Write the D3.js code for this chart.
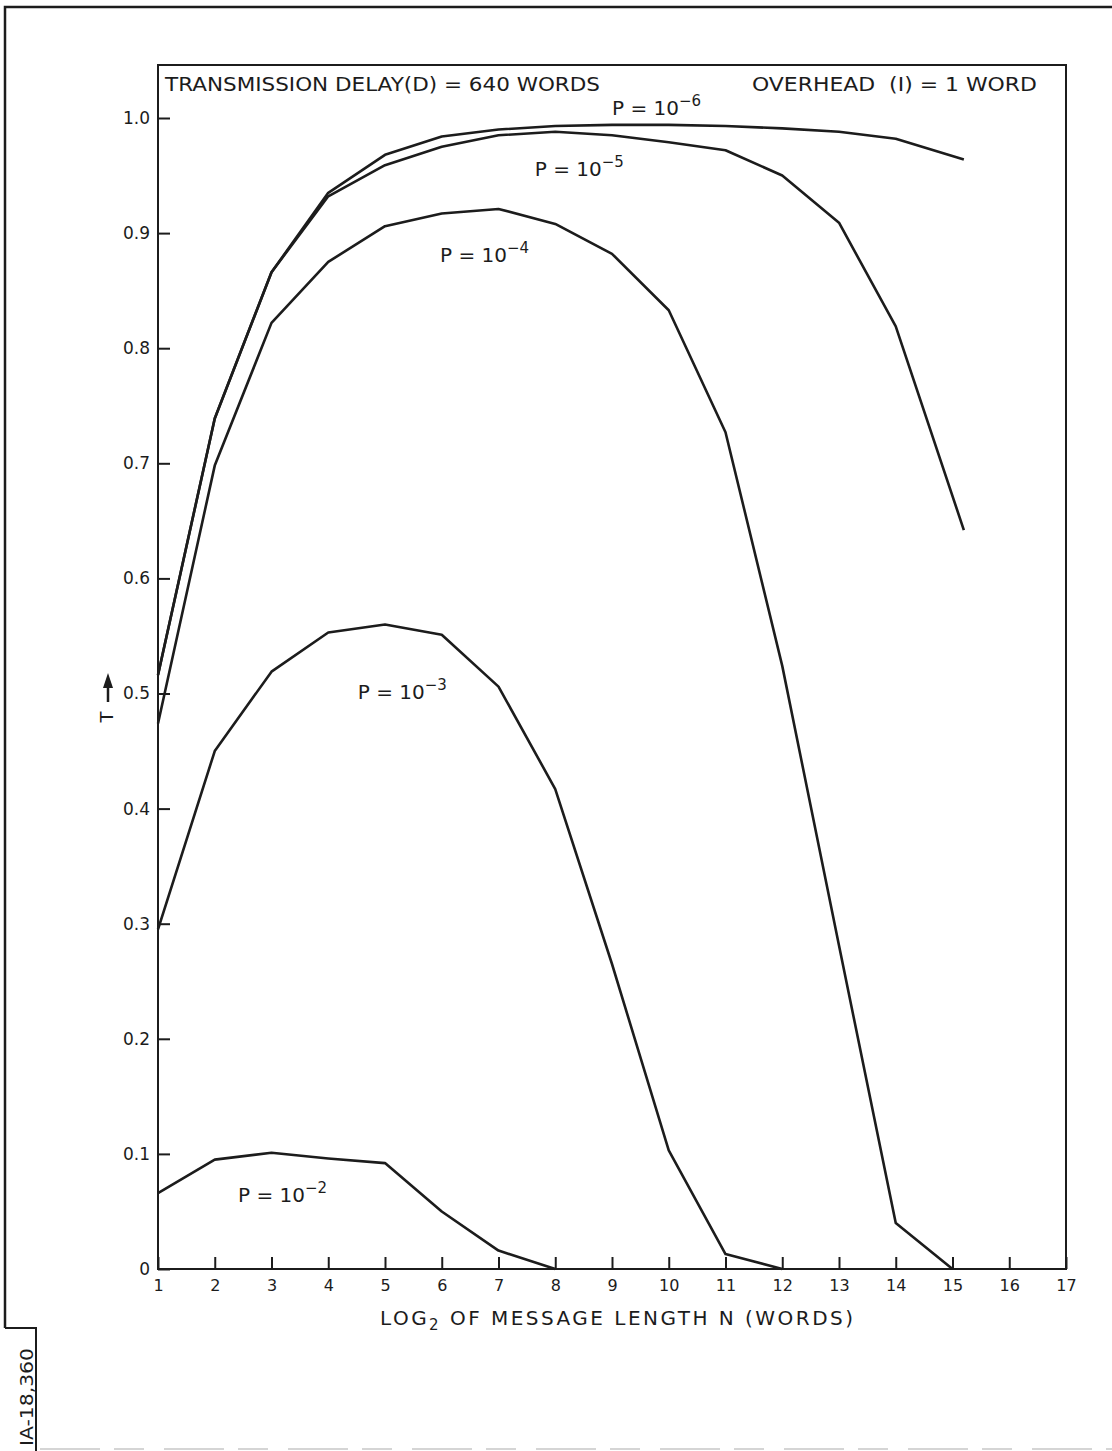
<!DOCTYPE html>
<html>
<head>
<meta charset="utf-8">
<script src="https://cdn.jsdelivr.net/npm/d3@7"></script>
<style>
  body { margin: 0; background: #fff; }
  svg text { font-family: "DejaVu Sans", sans-serif; fill: #1c1c1c; }
</style>
</head>
<body>
<svg id="chart"></svg>
<script>
// values (T against log2 N)
var xTickLabels = [1, 2, 3, 4, 5, 6, 7, 8, 9, 10, 11, 12, 13, 14, 15, 16, 17];
var yTickLabels = [0, 0.1, 0.2, 0.3, 0.4, 0.5, 0.6, 0.7, 0.8, 0.9, 1.0];

var nP6 = [1, 2, 3, 4, 5, 6, 7, 8, 9, 10, 11, 12, 13, 14, 15.2];
var tP6 = [0.516, 0.739, 0.866, 0.935, 0.968, 0.984, 0.990, 0.993, 0.994, 0.994, 0.993, 0.991, 0.988, 0.982, 0.964];

var nP5 = [1, 2, 3, 4, 5, 6, 7, 8, 9, 10, 11, 12, 13, 14, 15.2];
var tP5 = [0.516, 0.739, 0.866, 0.932, 0.959, 0.975, 0.985, 0.988, 0.985, 0.979, 0.972, 0.950, 0.909, 0.819, 0.642];

var nP4 = [1, 2, 3, 4, 5, 6, 7, 8, 9, 10, 11, 12, 13, 14, 15];
var tP4 = [0.474, 0.698, 0.822, 0.875, 0.906, 0.917, 0.921, 0.908, 0.882, 0.833, 0.727, 0.524, 0.281, 0.040, 0];

var nP3 = [1, 2, 3, 4, 5, 6, 7, 8, 9, 10, 11, 12];
var tP3 = [0.295, 0.450, 0.519, 0.553, 0.560, 0.551, 0.506, 0.417, 0.265, 0.103, 0.013, 0];

var nP2 = [1, 2, 3, 4, 5, 6, 7, 8];
var tP2 = [0.066, 0.095, 0.101, 0.096, 0.092, 0.050, 0.016, 0];

var exponents = ["\u22126", "\u22125", "\u22124", "\u22123", "\u22122"];

var W = 1112, H = 1451;

var svg = d3.select("svg#chart")
    .attr("width", W)
    .attr("height", H);

// scales
var x = d3.scaleLinear().domain([1, 17]).range([158, 1066]);
var y = d3.scaleLinear().domain([0, 1]).range([1269, 118]);

var ink = "#1c1c1c";

// page border (left and top) and the stamp box
svg.append("path")
    .attr("d", "M5,1328 V7 H1112")
    .attr("fill", "none")
    .attr("stroke", ink)
    .attr("stroke-width", 2.5);

svg.append("path")
    .attr("d", "M5,1328 H36 V1451")
    .attr("fill", "none")
    .attr("stroke", ink)
    .attr("stroke-width", 2);

svg.append("line")
    .attr("x1", 40).attr("x2", 1112)
    .attr("y1", 1449).attr("y2", 1449)
    .attr("stroke", "#c8c8c8")
    .attr("stroke-width", 1.5)
    .attr("stroke-dasharray", "60,14,30,20");

svg.append("text")
    .attr("transform", "translate(33,1397) rotate(-90)")
    .attr("text-anchor", "middle")
    .attr("textLength", 98)
    .attr("lengthAdjust", "spacingAndGlyphs")
    .style("font-size", "18px")
    .text("IA-18,360");

// plot frame
svg.append("rect")
    .attr("x", x(1))
    .attr("y", 65)
    .attr("width", x(17) - x(1))
    .attr("height", y(0) - 65)
    .attr("fill", "none")
    .attr("stroke", ink)
    .attr("stroke-width", 2);

// x axis, ticks pointing inwards
var gx = svg.append("g")
    .attr("transform", "translate(0," + y(0) + ")")
    .call(d3.axisBottom(x).tickValues(xTickLabels).tickSizeInner(-12).tickSizeOuter(0).tickPadding(11));
gx.select(".domain").remove();
gx.selectAll("line").attr("stroke", ink).attr("stroke-width", 2);
gx.selectAll("text").style("font-size", "16px").attr("fill", ink);

// y axis
var gy = svg.append("g")
    .attr("transform", "translate(" + x(1) + ",0)")
    .call(d3.axisLeft(y).tickValues(yTickLabels).tickSizeInner(-12).tickSizeOuter(0).tickPadding(8)
        .tickFormat(function(d) { return d === 0 ? "0" : d3.format(".1f")(d); }));
gy.select(".domain").remove();
gy.selectAll("line").attr("stroke", ink).attr("stroke-width", 2);
gy.selectAll("text").style("font-size", "17px").attr("fill", ink);

// curves
var line = d3.line()
    .x(function(d) { return x(d[0]); })
    .y(function(d) { return y(d[1]); });

var series = [
    d3.zip(nP6, tP6),
    d3.zip(nP5, tP5),
    d3.zip(nP4, tP4),
    d3.zip(nP3, tP3),
    d3.zip(nP2, tP2)
];

svg.selectAll("path.curve")
    .data(series)
    .enter()
    .append("path")
    .attr("class", "curve")
    .attr("d", line)
    .attr("fill", "none")
    .attr("stroke", ink)
    .attr("stroke-width", 2.6)
    .attr("stroke-linejoin", "round");

// curve labels, placed in data units
var labelAt = [[9.0, 1.003], [7.64, 0.950], [5.97, 0.875], [4.52, 0.495], [2.41, 0.058]];

labelAt.forEach(function(p, i) {
    var t = svg.append("text")
        .attr("x", x(p[0]))
        .attr("y", y(p[1]))
        .style("font-size", "20px");
    t.append("tspan").text("P = 10");
    t.append("tspan")
        .attr("dy", -9)
        .style("font-size", "15px")
        .text(exponents[i]);
});

// header texts
svg.append("text")
    .attr("x", 165).attr("y", 91)
    .attr("textLength", 435)
    .attr("lengthAdjust", "spacingAndGlyphs")
    .style("font-size", "19px")
    .text("TRANSMISSION DELAY(D) = 640 WORDS");

svg.append("text")
    .attr("x", 752).attr("y", 91)
    .attr("textLength", 285)
    .attr("lengthAdjust", "spacingAndGlyphs")
    .style("font-size", "19px")
    .attr("xml:space", "preserve")
    .text("OVERHEAD  (I) = 1 WORD");

// x axis title
var xt = svg.append("text")
    .attr("x", 380).attr("y", 1325)
    .attr("textLength", 473)
    .attr("lengthAdjust", "spacing")
    .style("font-size", "20px");
xt.append("tspan").text("LOG");
xt.append("tspan").attr("dy", 5).style("font-size", "15px").text("2");
xt.append("tspan").attr("dy", -5).text(" OF MESSAGE LENGTH N (WORDS)");

// y axis title with arrow
svg.append("text")
    .attr("transform", "translate(113,717) rotate(-90)")
    .attr("text-anchor", "middle")
    .style("font-size", "18px")
    .text("T");

svg.append("line")
    .attr("x1", 108).attr("x2", 108)
    .attr("y1", 702).attr("y2", 684)
    .attr("stroke", ink)
    .attr("stroke-width", 2.5);

svg.append("path")
    .attr("d", "M103,688 L113,688 L108,673 Z")
    .attr("fill", ink);
</script>
</body>
</html>
